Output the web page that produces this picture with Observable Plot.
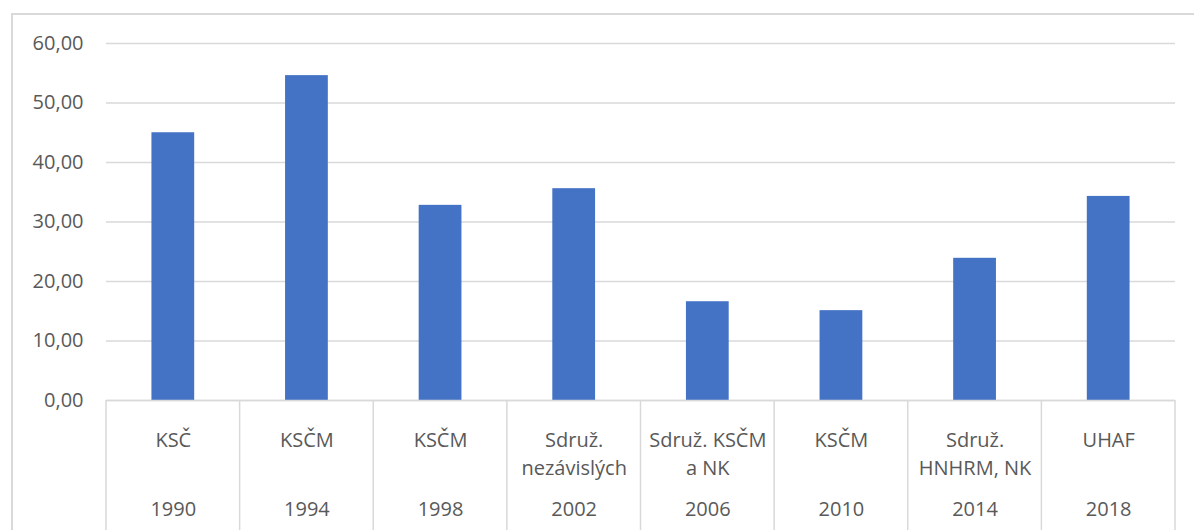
<!DOCTYPE html>
<html>
<head>
<meta charset="utf-8">
<script src="https://cdn.jsdelivr.net/npm/d3@7"></script>
<script src="https://cdn.jsdelivr.net/npm/@observablehq/plot@0.6"></script>
<style>
  html, body { margin: 0; padding: 0; background: #fff; }
  #wrap { position: relative; width: 1194px; height: 530px; overflow: hidden; }
  #frame { position: absolute; left: 11px; top: 13px; width: 1300px; height: 600px;
           border-left: 2px solid #d9d9d9; border-top: 2px solid #d9d9d9; pointer-events: none; }
</style>
</head>
<body>
<div id="wrap"><div id="frame"></div><div id="chart"></div></div>
<script>
const years = ["1990", "1994", "1998", "2002", "2006", "2010", "2014", "2018"];
const parties = ["KSČ", "KSČM", "KSČM", "Sdruž.\nnezávislých", "Sdruž. KSČM\na NK", "KSČM", "Sdruž.\nHNHRM, NK", "UHAF"];
const values = [45.0, 54.6, 32.8, 35.6, 16.6, 15.1, 23.9, 34.3];
const yTicks = [0, 10, 20, 30, 40, 50, 60];

const data = years.map((y, i) => ({year: y, party: parties[i], value: values[i]}));

const font = "'Open Sans', 'Liberation Sans', sans-serif";
const textColor = "#595959";
const gridColor = "#d9d9d9";

const plot = Plot.plot({
  width: 1194,
  height: 530,
  marginLeft: 106,
  marginRight: 19,
  marginTop: 43,
  marginBottom: 130,
  style: {fontFamily: font, fontSize: "20px", color: textColor, background: "transparent", overflow: "visible"},
  x: {type: "band", domain: years, paddingInner: 0.68, paddingOuter: 0.34, align: 0.5, round: false, axis: null},
  y: {domain: [0, 60], axis: null},
  marks: [
    Plot.gridY(yTicks, {stroke: gridColor, strokeOpacity: 1, strokeWidth: 1.5}),
    Plot.axisY(yTicks, {tickSize: 0, tickPadding: 23, tickFormat: d => d.toFixed(2).replace(".", ","), fill: textColor, fontSize: 20, label: null}),
    Plot.barY(data, {x: "year", y: "value", fill: "#4472C4"}),
    Plot.ruleY([0], {stroke: gridColor, strokeWidth: 1.5}),
    Plot.text(data, {x: "year", y: () => 0, text: "party", lineAnchor: "top", dy: 26.5, lineHeight: 1.415, fill: textColor, fontSize: 20}),
    Plot.text(data, {x: "year", y: () => 0, text: "year", lineAnchor: "top", dy: 101.5, fill: textColor, fontSize: 20})
  ]
});

document.getElementById("chart").appendChild(plot);

// category dividers derived from the band scale
const xs = plot.scale("x");
const ys = plot.scale("y");
const gap = (xs.step - xs.bandwidth) / 2;
const bounds = years.map(c => xs.apply(c) - gap);
bounds.push(xs.apply(years[years.length - 1]) + xs.bandwidth + gap);
const y0 = ys.apply(0);
d3.select(plot).append("g")
  .selectAll("line").data(bounds).join("line")
  .attr("x1", d => d).attr("x2", d => d)
  .attr("y1", y0).attr("y2", 530)
  .attr("stroke", gridColor).attr("stroke-width", 1.5);
</script>
</body>
</html>
